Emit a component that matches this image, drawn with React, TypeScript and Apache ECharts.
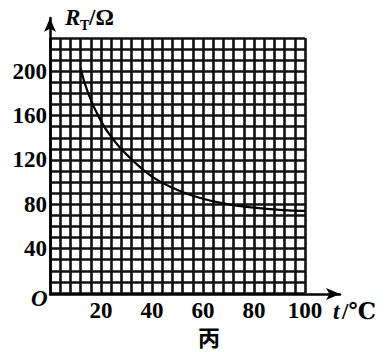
import React, { useEffect, useRef } from "react";
import * as echarts from "echarts";

const temperature = [12, 15, 20, 25, 30, 40, 50, 60, 70, 80, 90, 100];
const resistance = [203, 180, 155, 138, 125, 105, 93, 85, 80, 77, 75, 74];
const xTickLabels = [20, 40, 60, 80, 100];
const yTickLabels = [40, 80, 120, 160, 200];

const SERIF = "'Liberation Serif', 'DejaVu Serif', serif";

export default function App() {
  const ref = useRef<HTMLDivElement>(null);
  useEffect(() => {
    if (!ref.current) return;
    const chart = echarts.init(ref.current, null, { renderer: "svg" });
    const labelStyle = {
      color: "#000",
      fontFamily: SERIF,
      fontWeight: "bold" as const,
      fontSize: 23,
    };
    chart.setOption({
      animation: false,
      backgroundColor: "#fff",
      grid: [
        { left: 50, top: 18, width: 290, height: 276 },
        { left: 50, top: 38, width: 255, height: 255 },
      ],
      xAxis: [
        {
          gridIndex: 0,
          type: "value",
          min: 0,
          max: 1,
          axisLine: {
            show: true,
            lineStyle: { color: "#000", width: 2.5 },
            symbol: ["none", "arrow"],
            symbolSize: [9, 14],
          },
          axisTick: { show: false },
          axisLabel: { show: false },
          splitLine: { show: false },
        },
        {
          gridIndex: 1,
          type: "value",
          min: 0,
          max: 100,
          interval: 4,
          axisLine: { show: false },
          axisTick: { show: false },
          axisLabel: {
            ...labelStyle,
            margin: 6,
            lineHeight: 22,
            formatter: (v: number) => (xTickLabels.includes(v) ? String(v) : ""),
          },
          splitLine: { show: true, lineStyle: { color: "#111", width: 2.6 } },
        },
      ],
      yAxis: [
        {
          gridIndex: 0,
          type: "value",
          min: 0,
          max: 1,
          axisLine: {
            show: true,
            lineStyle: { color: "#000", width: 2.5 },
            symbol: ["none", "arrow"],
            symbolSize: [9, 14],
          },
          axisTick: { show: false },
          axisLabel: { show: false },
          splitLine: { show: false },
        },
        {
          gridIndex: 1,
          type: "value",
          min: 0,
          max: 230,
          interval: 10,
          axisLine: { show: false },
          axisTick: { show: false },
          axisLabel: {
            ...labelStyle,
            margin: 3,
            formatter: (v: number) => (yTickLabels.includes(v) ? String(v) : ""),
          },
          splitLine: { show: true, lineStyle: { color: "#111", width: 2.6 } },
        },
      ],
      series: [
        {
          type: "line",
          xAxisIndex: 1,
          yAxisIndex: 1,
          data: temperature.map((t, i) => [t, resistance[i]]),
          smooth: true,
          showSymbol: false,
          lineStyle: { color: "#000", width: 2.2 },
          z: 5,
        },
      ],
      graphic: [
        {
          type: "text",
          left: 31,
          top: 287,
          style: { text: "O", font: `italic bold 23px ${SERIF}`, fill: "#000" },
        },
        {
          type: "text",
          left: 65,
          top: 6,
          style: { text: "R", font: `italic bold 23px ${SERIF}`, fill: "#000" },
        },
        {
          type: "text",
          left: 80,
          top: 18,
          style: { text: "T", font: `bold 14px ${SERIF}`, fill: "#000" },
        },
        {
          type: "text",
          left: 89,
          top: 6,
          style: { text: "/Ω", font: `bold 23px ${SERIF}`, fill: "#000" },
        },
        {
          type: "text",
          left: 333,
          top: 300,
          style: { text: "t", font: `italic bold 23px ${SERIF}`, fill: "#000" },
        },
        {
          type: "text",
          left: 342,
          top: 300,
          style: { text: "/℃", font: `bold 23px ${SERIF}`, fill: "#000" },
        },
        {
          type: "text",
          left: 198,
          top: 325,
          style: { text: "丙", font: `bold 22px 'Noto Sans CJK SC'`, fill: "#000" },
        },
      ],
    });
    return () => chart.dispose();
  }, []);
  return (
    <div
      ref={ref}
      style={{ position: "fixed", left: 0, top: 0, width: 385, height: 352, background: "#fff" }}
    />
  );
}
